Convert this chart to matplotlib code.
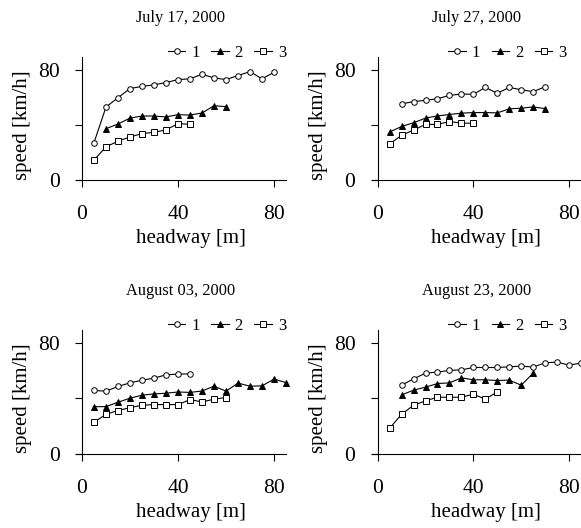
import matplotlib
matplotlib.use("Agg")
import matplotlib.pyplot as plt

plt.rcParams['font.family'] = ['Liberation Serif', 'DejaVu Serif']

# titles of the four panels
titles = ['July 17, 2000', 'July 27, 2000', 'August 03, 2000', 'August 23, 2000']

# July 17
jul17_x1 = [5, 10, 15, 20, 25, 30, 35, 40, 45, 50, 55, 60, 65, 70, 75, 80]
jul17_y1 = [27.2, 53, 59.8, 66.5, 68, 69.2, 70.8, 73, 73.5, 76.9, 74.2, 73, 75.9, 78.8, 73.5, 78.3]
jul17_x2 = [10, 15, 20, 25, 30, 35, 40, 45, 50, 55, 60]
jul17_y2 = [37.3, 40.7, 45, 46.5, 46.5, 45.8, 47.5, 47.2, 48.7, 54, 53.3]
jul17_x3 = [5, 10, 15, 20, 25, 30, 35, 40, 45]
jul17_y3 = [14.5, 24.1, 28.2, 31.3, 33.7, 34.7, 36.4, 41, 40.5]

# July 27
jul27_x1 = [10, 15, 20, 25, 30, 35, 40, 45, 50, 55, 60, 65, 70]
jul27_y1 = [55.3, 57, 57.9, 59.1, 61.5, 62.5, 62.3, 67.3, 63, 67.3, 65.6, 64.2, 67.8]
jul27_x2 = [5, 10, 15, 20, 25, 30, 35, 40, 45, 50, 55, 60, 65, 70]
jul27_y2 = [34.9, 38.9, 41.6, 45, 46.6, 47.6, 48.6, 49, 49, 48.8, 51.7, 52.2, 53.1, 51.9]
jul27_x3 = [5, 10, 15, 20, 25, 30, 35, 40]
jul27_y3 = [26.2, 32.5, 36.3, 40.4, 40.4, 42.5, 41.3, 41.3]

# August 03
aug03_x1 = [5, 10, 15, 20, 25, 30, 35, 40, 45]
aug03_y1 = [45.7, 45.2, 48.6, 51.2, 53.1, 54.6, 57, 57.5, 57.7]
aug03_x2 = [5, 10, 15, 20, 25, 30, 35, 40, 45, 50, 55, 60, 65, 70, 75, 80, 85]
aug03_y2 = [34, 34, 37.2, 40.1, 42.3, 43.2, 43.7, 44.6, 44.3, 45.3, 48.8, 45.2, 51, 48.8, 49, 53.9, 51.4]
aug03_x3 = [5, 10, 15, 20, 25, 30, 35, 40, 45, 50, 55, 60]
aug03_y3 = [22.7, 28.5, 31.2, 33.3, 35, 35.5, 35.5, 35.5, 39.1, 37.4, 39.4, 40.6]

# August 23
aug23_x1 = [10, 15, 20, 25, 30, 35, 40, 45, 50, 55, 60, 65, 70, 75, 80, 85]
aug23_y1 = [49.5, 54.1, 58.2, 59, 60.2, 60.6, 62.3, 62.3, 62.3, 62.8, 63.3, 62.6, 65.7, 66.2, 64, 65.5]
aug23_x2 = [10, 15, 20, 25, 30, 35, 40, 45, 50, 55, 60, 65]
aug23_y2 = [42.5, 45.9, 48.1, 50.7, 51.2, 54.8, 53.4, 53.4, 52.9, 53.2, 49.5, 58.2]
aug23_x3 = [5, 10, 15, 20, 25, 30, 35, 40, 45, 50]
aug23_y3 = [18.4, 28.5, 35, 38.2, 40.8, 40.8, 40.8, 43, 39.4, 44.7]

panels = [
    [(jul17_x1, jul17_y1), (jul17_x2, jul17_y2), (jul17_x3, jul17_y3)],
    [(jul27_x1, jul27_y1), (jul27_x2, jul27_y2), (jul27_x3, jul27_y3)],
    [(aug03_x1, aug03_y1), (aug03_x2, aug03_y2), (aug03_x3, aug03_y3)],
    [(aug23_x1, aug23_y1), (aug23_x2, aug23_y2), (aug23_x3, aug23_y3)],
]
labels = ['1', '2', '3']

# marker styles: open circle, filled triangle, open square
styles = [
    dict(marker='o', markerfacecolor='white', markersize=4),
    dict(marker='^', markerfacecolor='black', markersize=4.5),
    dict(marker='s', markerfacecolor='white', markersize=4),
]

W, H = 581, 528
fig = plt.figure(figsize=(W / 100, H / 100), dpi=100)

# axes boxes in pixels: left, top, right, bottom
boxes = [
    (76, 57, 286, 180),
    (371.7, 57, 581, 180),
    (76, 330, 286, 453.7),
    (371.7, 330, 581, 453.7),
]
legend_x = [1.0, 0.93, 1.0, 0.93]

for k, (l, t, r, b) in enumerate(boxes):
    ax = fig.add_axes([l / W, 1 - b / H, (r - l) / W, (b - t) / H])
    for (xs, ys), lab, st in zip(panels[k], labels, styles):
        ax.plot(xs, ys, color='black', linewidth=0.8, markeredgecolor='black',
                markeredgewidth=0.7, label=lab, clip_on=False, **st)

    ax.set_xlim(-2.5, 85)
    ax.set_ylim(0, 89.4)
    ax.spines['left'].set_position(('data', 0))
    ax.spines['top'].set_visible(False)
    ax.spines['right'].set_visible(False)
    for s in ['left', 'bottom']:
        ax.spines[s].set_linewidth(0.8)

    ax.set_xticks([0, 40, 80])
    ax.set_yticks([0, 40, 80])
    ax.set_yticklabels(['0', '', '80'])
    ax.tick_params(axis='x', direction='out', length=5, width=0.8, pad=13, labelsize=15.5)
    ax.tick_params(axis='y', direction='out', length=5, width=0.8, pad=11, labelsize=15.5)

    ax.set_xlabel('headway [m]', fontsize=15)
    ax.xaxis.set_label_coords(0.546, -0.40)
    ax.set_ylabel('speed [km/h]', fontsize=15)
    ax.yaxis.set_label_coords(-0.21, 0.447)

    ax.set_title(titles[k], fontsize=11.8, pad=25)

    ax.legend(loc='center right', bbox_to_anchor=(legend_x[k], 1.03), ncol=3,
              frameon=False, fontsize=12, handlelength=1.05, handletextpad=0.35,
              columnspacing=0.7, borderpad=0, borderaxespad=0)

fig.savefig('out.png', dpi=100)
